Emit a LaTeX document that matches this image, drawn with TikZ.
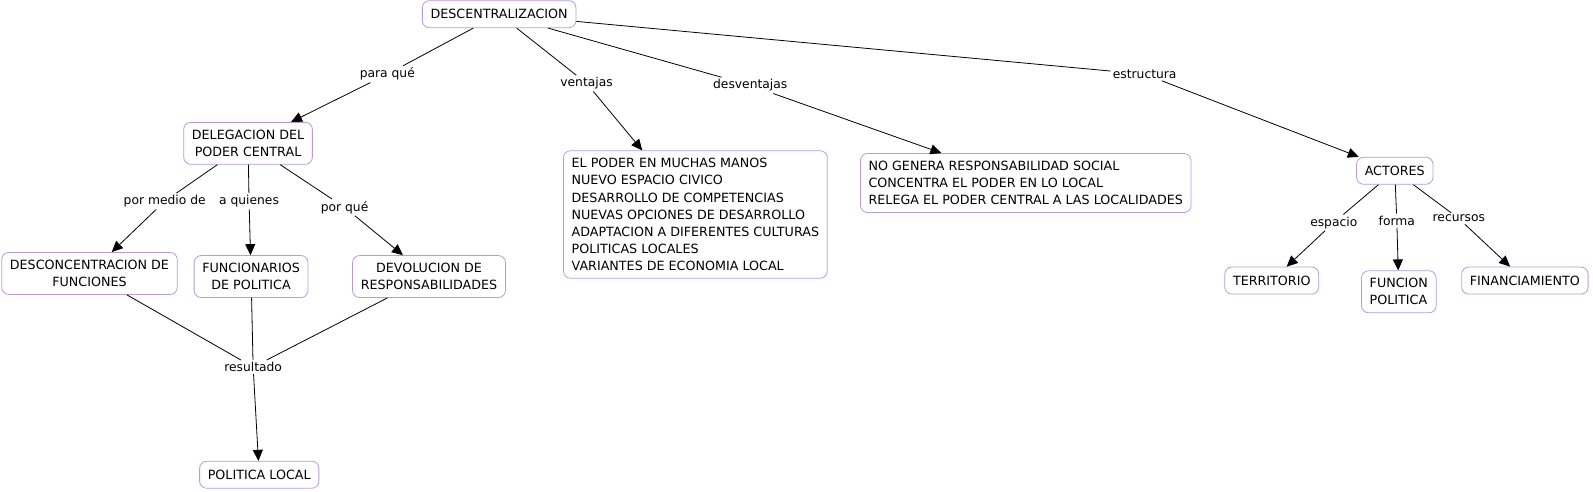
\documentclass[tikz,border=0pt]{standalone}
\usepackage{fontspec}
\setmainfont{DejaVu Sans}
\usetikzlibrary{arrows.meta}
\definecolor{bord}{RGB}{185,155,220}
\tikzset{
  concept/.style={draw=bord, rounded corners=7pt, fill=white, inner xsep=8.2pt, inner ysep=7.6pt,
    font=\fontsize{12.7}{17.1}\selectfont, align=center, line width=0.8pt},
  single/.style={minimum height=27pt},
  lbl/.style={fill=white, inner sep=2pt, font=\fontsize{12.3}{14}\selectfont},
  link/.style={line width=0.8pt},
  arr/.style={link, -{Triangle[length=11pt,width=10pt]}},
}
\begin{document}
\begin{tikzpicture}[x=1.0165pt,y=-1.0165pt]
\useasboundingbox (0,0) rectangle (1567,483);
% concepts
\node[concept, single] (desc) at (491,14) {DESCENTRALIZACION};
\node[concept] (deleg) at (244,141) {DELEGACION DEL\\PODER CENTRAL};
\node[concept] (descon) at (88,269) {DESCONCENTRACION DE\\FUNCIONES};
\node[concept] (func) at (247,272) {FUNCIONARIOS\\DE POLITICA};
\node[concept] (devol) at (422,272) {DEVOLUCION DE\\RESPONSABILIDADES};
\node[concept, single] (polloc) at (255,467) {POLITICA LOCAL};
\node[concept, align=left] (vent) at (684,211) {EL PODER EN MUCHAS MANOS\\NUEVO ESPACIO CIVICO\\DESARROLLO DE COMPETENCIAS\\NUEVAS OPCIONES DE DESARROLLO\\ADAPTACION A DIFERENTES CULTURAS\\POLITICAS LOCALES\\VARIANTES DE ECONOMIA LOCAL};
\node[concept, align=left] (desv) at (1009,180) {NO GENERA RESPONSABILIDAD SOCIAL\\CONCENTRA EL PODER EN LO LOCAL\\RELEGA EL PODER CENTRAL A LAS LOCALIDADES};
\node[concept, single] (act) at (1372,168) {ACTORES};
\node[concept, single] (terr) at (1251,276) {TERRITORIO};
\node[concept, align=left] (funpol) at (1376,287) {FUNCION\\POLITICA};
\node[concept, single] (fin) at (1500,276) {FINANCIAMIENTO};
% labels
\node[lbl] (l1) at (381,73) {para qué};
\node[lbl] (l2) at (577,82) {ventajas};
\node[lbl] (l3) at (738,84) {desventajas};
\node[lbl] (l4) at (1126,73) {estructura};
\node[lbl] (l5) at (162,198) {por medio de};
\node[lbl] (l6) at (245,198) {a quienes};
\node[lbl] (l7) at (339,204) {por qué};
\node[lbl] (l8) at (249,361) {resultado};
\node[lbl] (l9) at (1312,219) {espacio};
\node[lbl] (l10) at (1374,217) {forma};
\node[lbl] (l11) at (1435,215) {recursos};
% connectors
\draw[link] (desc) -- (l1); \draw[arr] (l1) -- (deleg);
\draw[link] (desc) -- (l2); \draw[arr] (l2) -- (vent);
\draw[link] (desc) -- (l3); \draw[arr] (l3) -- (desv);
\draw[link] (desc) -- (l4); \draw[arr] (l4) -- (act);
\draw[link] (deleg) -- (l5); \draw[arr] (l5) -- (descon);
\draw[link] (deleg) -- (l6); \draw[arr] (l6) -- (func);
\draw[link] (deleg) -- (l7); \draw[arr] (l7) -- (devol);
\draw[link] (descon) -- (l8);
\draw[link] (func) -- (l8);
\draw[link] (devol) -- (l8);
\draw[arr] (l8) -- (polloc);
\draw[link] (act) -- (l9); \draw[arr] (l9) -- (terr);
\draw[link] (act) -- (l10); \draw[arr] (l10) -- (funpol);
\draw[link] (act) -- (l11); \draw[arr] (l11) -- (fin);
\end{tikzpicture}
\end{document}
